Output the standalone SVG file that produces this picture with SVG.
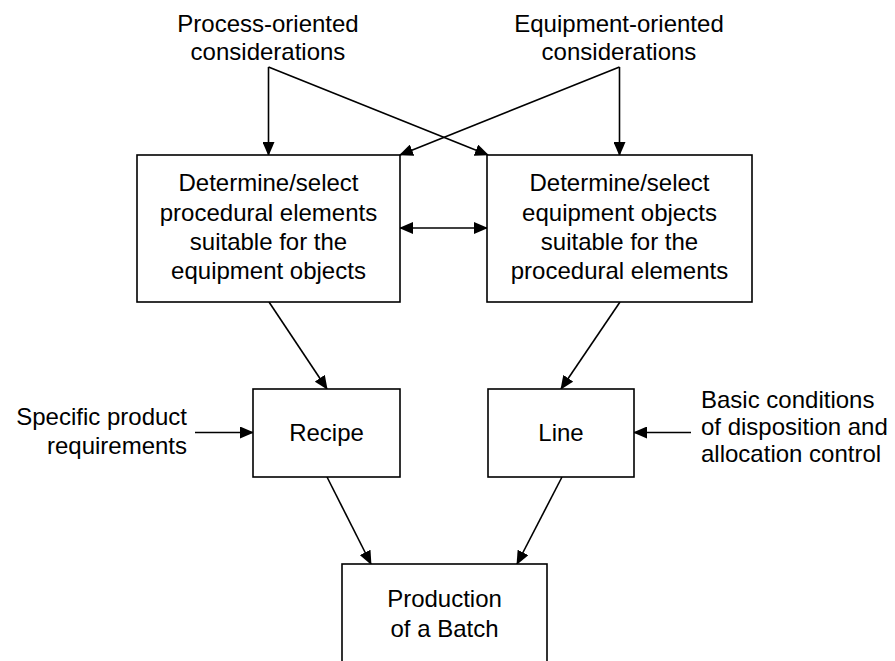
<svg xmlns="http://www.w3.org/2000/svg" width="895" height="661" viewBox="0 0 895 661">
<style>
.box{fill:#fff;stroke:#000;stroke-width:1.6}
.t{font-family:"Liberation Sans",Arial,sans-serif;font-size:24px;fill:#000}
.c{text-anchor:middle}
.r{text-anchor:end}
.e{stroke:#000;stroke-width:1.6;fill:none;marker-end:url(#ah)}
</style>
<defs>
<marker id="ah" markerUnits="userSpaceOnUse" markerWidth="14" markerHeight="12" refX="13" refY="6" orient="auto-start-reverse" viewBox="0 0 14 12">
<path d="M0,0 L14,6 L0,12 z" fill="#000"/>
</marker>
</defs>
<rect width="895" height="661" fill="#fff"/>
<g id="connectors">
<line class="e" x1="268.5" y1="67" x2="268.5" y2="155"/>
<line class="e" x1="268.5" y1="67" x2="488" y2="155"/>
<line class="e" x1="619.5" y1="67" x2="619.5" y2="155"/>
<line class="e" x1="619.5" y1="67" x2="400" y2="155"/>
<line class="e" x1="400" y1="228" x2="487" y2="228" style="marker-start:url(#ah)"/>
<line class="e" x1="269" y1="302" x2="327" y2="389"/>
<line class="e" x1="620" y1="302" x2="561" y2="389"/>
<line class="e" x1="195" y1="432.5" x2="253" y2="432.5"/>
<line class="e" x1="691" y1="432.5" x2="634" y2="432.5"/>
<line class="e" x1="327" y1="477" x2="371" y2="564"/>
<line class="e" x1="562" y1="477" x2="517" y2="564"/>
</g>
<g id="process-considerations">
<text class="t c" x="268" y="32">Process-oriented</text>
<text class="t c" x="268" y="59.5">considerations</text>
</g>
<g id="equipment-considerations">
<text class="t c" x="619" y="32">Equipment-oriented</text>
<text class="t c" x="619" y="59.5">considerations</text>
</g>
<g id="procedural-elements">
<rect class="box" x="137" y="155" width="263" height="147"/>
<text class="t c" x="268.5" y="191">Determine/select</text>
<text class="t c" x="268.5" y="220.5">procedural elements</text>
<text class="t c" x="268.5" y="250">suitable for the</text>
<text class="t c" x="268.5" y="279">equipment objects</text>
</g>
<g id="equipment-objects">
<rect class="box" x="487" y="155" width="265" height="147"/>
<text class="t c" x="619.5" y="191">Determine/select</text>
<text class="t c" x="619.5" y="220.5">equipment objects</text>
<text class="t c" x="619.5" y="250">suitable for the</text>
<text class="t c" x="619.5" y="279">procedural elements</text>
</g>
<g id="product-requirements">
<text class="t r" x="187" y="425">Specific product</text>
<text class="t r" x="187" y="454">requirements</text>
</g>
<g id="recipe">
<rect class="box" x="253" y="389" width="147" height="88"/>
<text class="t c" x="326.5" y="441">Recipe</text>
</g>
<g id="line">
<rect class="box" x="488" y="389" width="146" height="88"/>
<text class="t c" x="561" y="441">Line</text>
</g>
<g id="basic-conditions">
<text class="t" x="701" y="408">Basic conditions</text>
<text class="t" x="701" y="435">of disposition and</text>
<text class="t" x="701" y="462">allocation control</text>
</g>
<g id="production">
<rect class="box" x="342" y="564" width="205" height="130"/>
<text class="t c" x="444.5" y="607">Production</text>
<text class="t c" x="444.5" y="637">of a Batch</text>
</g>
</svg>
